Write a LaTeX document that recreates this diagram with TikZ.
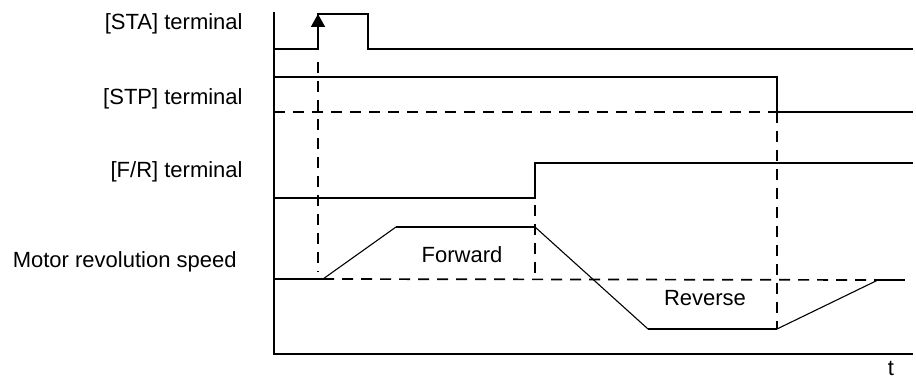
\documentclass[tikz,border=0pt]{standalone}
\usepackage{fontspec}
\setmainfont{Liberation Sans}
\usetikzlibrary{arrows.meta}
\begin{document}
\begin{tikzpicture}[x=0.5pt, y=-0.5pt, >={Triangle[length=6.5pt, width=7pt]},
    signal/.style={line width=0.85pt},
    ramp/.style={line width=0.55pt},
    guide/.style={line width=0.85pt, dash pattern=on 5.5pt off 4pt},
    lbl/.style={font=\fontsize{11}{13}\selectfont, inner sep=0pt}]
    \useasboundingbox (0,0) rectangle (916,379);

    % --- Repères des axes ---
    \coordinate (Top)    at (274, 12);    % Haut de l'axe vertical
    \coordinate (Orig)   at (274, 354);   % Origine
    \coordinate (End)    at (913, 354);   % Fin de l'axe du temps

    % --- Instants de commutation ---
    \coordinate (Tsta)   at (318, 49);    % Front montant STA
    \coordinate (Tfr)    at (535, 198);   % Basculement F/R
    \coordinate (Tstp)   at (777, 112);   % Retombée STP

    % ==============================================================
    % 1. AXES
    % ==============================================================
    \draw[line width=1.3pt] (Top) -- (Orig) -- (End);
    \node[lbl, anchor=base] (t) at (891, 375) {t};

    % ==============================================================
    % 2. LIBELLÉS DES SIGNAUX
    % ==============================================================
    \node[lbl, anchor=east] (sta) at (243, 24) {[STA] terminal};
    \node[lbl, anchor=east] (stp) at (243, 99) {[STP] terminal};
    \node[lbl, anchor=east] (fr)  at (243, 172) {[F/R] terminal};
    \node[lbl, anchor=east] (speed) at (237, 262) {Motor revolution speed};

    % ==============================================================
    % 3. CHRONOGRAMMES DES BORNES
    % ==============================================================
    % Impulsion STA
    \draw[signal] (274, 49) -- (Tsta) -- (318, 14) -- (368, 14) -- (368, 49) -- (913, 49);
    \draw[signal, ->] (Tsta) -- (318, 14);

    % Maintien STP
    \draw[signal] (274, 77) -- (777, 77) -- (777, 112) -- (913, 112);
    \draw[guide] (274, 112) -- (Tstp);

    % Sens de rotation F/R
    \draw[signal] (274, 198) -- (Tfr) -- (535, 163) -- (913, 163);

    % ==============================================================
    % 4. VITESSE DU MOTEUR
    % ==============================================================
    \coordinate (S0) at (323, 279);   % Début d'accélération
    \coordinate (S1) at (396, 227);   % Palier avant
    \coordinate (S2) at (535, 227);   % Fin du palier avant
    \coordinate (S3) at (648, 329);   % Palier arrière
    \coordinate (S4) at (777, 329);   % Fin du palier arrière
    \coordinate (S5) at (878, 280);   % Retour à l'arrêt

    \draw[signal] (274, 279) -- (S0);
    \draw[guide] (S0) -- (S5);
    \draw[ramp] (S0) -- (S1);
    \draw[signal] (S1) -- (S2);
    \draw[ramp] (S2) -- (S3);
    \draw[signal] (S3) -- (S4);
    \draw[ramp] (S4) -- (S5);
    \draw[signal] (S5) -- (905, 280);

    \node[lbl] (fwd) at (462, 255) {Forward};
    \node[lbl] (rev) at (705, 298) {Reverse};

    % ==============================================================
    % 5. REPÈRES VERTICAUX EN POINTILLÉS
    % ==============================================================
    \draw[guide] (318, 62) -- (318, 272);
    \draw[guide] (535, 205) -- (535, 279);
    \draw[guide] (Tstp) -- (S4);
\end{tikzpicture}
\end{document}
